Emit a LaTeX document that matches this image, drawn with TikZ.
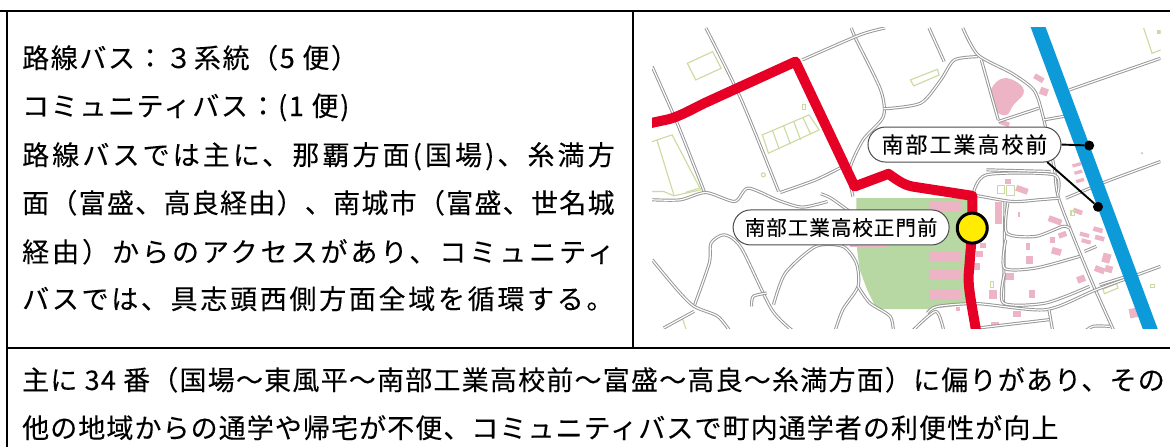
\documentclass[tikz,border=0pt]{standalone}
\usepackage{fontspec}
\usetikzlibrary{shapes.misc}
\setmainfont{Noto Sans CJK JP}
\newfontfamily\bodyfont[FakeBold=.12]{Noto Sans CJK JP}
\newfontfamily\labelfont[FakeBold=.12]{Noto Sans CJK JP}
\definecolor{rulecol}{HTML}{000000}
\definecolor{roadcol}{HTML}{969696}
\definecolor{routered}{HTML}{E60026}
\definecolor{routeblue}{HTML}{0C9BD8}
\definecolor{fieldgreen}{HTML}{B7D7A3}
\definecolor{housepink}{HTML}{EDB4C6}
\definecolor{outlinegreen}{HTML}{CBDA9E}
\definecolor{stopyellow}{HTML}{FFEC00}
\newcommand{\spaced}[1]{\addfontfeature{LetterSpace=#1}}
\tikzset{
  tablerule/.style={draw=rulecol,line width=2pt},
  bodytext/.style={anchor=base west,inner sep=0pt,font=\bodyfont\fontsize{27}{27}\selectfont},
  road/.style={draw=roadcol,line width=.95pt,double=white,double distance=1.2pt,line join=round},
  outl/.style={draw=outlinegreen,line width=1.1pt},
  house/.style={fill=housepink},
  routeline/.style={line width=10pt,line join=round},
  pill/.style={rounded rectangle,draw=black!70,line width=1pt,fill=white,inner sep=0pt},
  dotmark/.style={circle,fill=black,inner sep=0pt,minimum size=10pt},
  stopmark/.style={circle,fill=stopyellow,draw=black,line width=3pt,inner sep=0pt,minimum size=30pt},
  leader/.style={draw=black,line width=1.9pt}
}
\newcommand{\roadline}[1]{\draw[road] plot[smooth,tension=.45] coordinates {#1};}
\begin{document}
\begin{tikzpicture}[x=1pt,y=-1pt]
\useasboundingbox (0,0) rectangle (1170,447);
\fill[white] (0,0) rectangle (1170,447);
% map
\begin{scope}[shift={(640,10)},x=.338pt,y=-.333pt]
\clip (36,54) rectangle (1540,957);
\fill[fieldgreen] (640,565) -- (970,565) -- (970,885) -- (860,898) -- (700,898) -- (672,840) -- (650,780) -- (640,700) -- cycle;
\foreach \bx/\by/\bw/\bh in {855/575/950/605,620/695/730/712,855/725/950/755,855/780/950/812,855/838/950/870}
  \fill[house] (\bx,\by) rectangle (\bw,\bh);
\foreach \x/\y/\w/\h/\r in {1180/205/15/8/-30,1195/245/12/11/-20,1078/340/15/7/-20,1292/465/13/5/15,1297/487/12/5/15,1302/512/12/5/15,1090/515/9/8/0,1130/540/18/9/-20,1060/610/10/32/0,1228/632/20/9/-20,1295/605/14/7/-20,1122/615/3/8/0,1220/690/7/9/0,1250/675/12/8/20,1148/710/7/10/0,1152/750/10/12/0,1232/725/14/10/-15,1315/675/14/6/-15,1320/695/14/6/-15,1355/660/14/7/-15,1360/685/14/7/-15,1380/745/12/14/-15,1387/778/11/10/-15,1360/780/15/9/-20,1305/808/12/10/20,1093/800/14/10/0,1160/853/10/13/0,1045/855/12/14/0,1015/708/10/8/0,1005/733/10/9/0,995/770/10/10/0,1115/913/12/8/0,1050/945/12/8/0,940/897/6/6/0,1460/910/12/14/10}
  \fill[house,shift={(\x,\y)},rotate=\r] (-\w,-\h) rectangle (\w,\h);
\fill[house] plot[smooth cycle,tension=.7] coordinates {(1040,235) (1075,205) (1120,220) (1135,250) (1105,285) (1085,315) (1055,305) (1040,270)};
% outlines
\draw[outl] (140,160) -- (215,125) -- (240,175) -- (165,210) -- cycle;
\draw[outl] (800,210) -- (880,178) -- (885,195) -- (810,228) -- cycle;
\draw[outl] (362,375) -- (500,315) -- (530,360) -- (380,430) -- cycle;
\draw[outl] (392,362) -- (412,418);
\draw[outl] (425,348) -- (445,403);
\draw[outl] (455,335) -- (475,390);
\draw[outl] (482,323) -- (505,373);
\draw[outl] (36,395) -- (95,375) -- (180,540) -- (100,558);
\draw[outl] (50,390) -- (100,555);
\draw[outl] (36,545) -- (70,545) -- (100,558);
\draw[outl] (135,548) -- (175,535);
\draw[outl] (480,285) rectangle (490,298);
\draw[outl] (365,495) circle (6);
\draw[outl] (1058,528) rectangle (1078,550);
\draw[outl] (1085,528) rectangle (1108,556);
\draw[outl] (1036,815) rectangle (1045,832);
\draw[outl] (1275,602) rectangle (1285,618);
\draw[outl] (1370,838) -- (1410,822) -- (1414,835) -- (1374,852) -- cycle;
\draw[outl] (1490,54) -- (1515,130) -- (1540,120);
\fill[outlinegreen] (1530,60) rectangle (1540,72);
\fill[outlinegreen] (1485,430) circle (4);
\draw[outl] (1510,825) rectangle (1522,832);
\draw[outl] (70,955) -- (125,925) -- (140,970);
% roads
\roadline{(195,54) (300,270) (410,545)}
\roadline{(36,170) (110,340) (190,545)}
\roadline{(36,570) (120,570) (195,548) (280,575) (320,535) (410,572) (480,592) (555,575)}
\roadline{(415,548) (520,510) (600,470)}
\roadline{(535,552) (565,565) (620,605)}
\roadline{(630,560) (620,480) (660,390) (720,320) (712,240) (640,90) (625,54)}
\roadline{(480,150) (650,75) (725,54)}
\roadline{(720,297) (830,280) (890,210) (930,150) (1000,140)}
\roadline{(855,54) (900,155)}
\roadline{(955,54) (1000,135) (1100,190) (1165,240) (1190,310) (1225,470) (1240,570) (1330,800) (1405,970)}
\roadline{(1010,150) (1060,330)}
\roadline{(1060,335) (1180,295)}
\roadline{(1195,330) (1262,318)}
\roadline{(1270,240) (1540,145)}
\roadline{(1260,565) (1380,515) (1540,455)}
\roadline{(985,555) (1100,575) (1180,570) (1240,565)}
\roadline{(985,555) (1025,495) (1225,495) (1235,555)}
\roadline{(1025,480) (1215,485)}
\roadline{(1080,575) (1075,880)}
\roadline{(1088,580) (1085,670) (1170,680) (1250,650) (1270,655)}
\roadline{(1082,690) (1078,775) (1170,775) (1300,740)}
\roadline{(1078,792) (1075,880) (1200,880) (1330,830)}
\roadline{(850,910) (880,890) (1000,882) (1200,900) (1350,840) (1540,770)}
\roadline{(1210,900) (1222,970)}
\roadline{(1000,955) (1210,930)}
\roadline{(800,970) (875,905) (900,970)}
\roadline{(1350,710) (1315,725)}
\roadline{(1360,825) (1440,800)}
\roadline{(1310,970) (1340,950) (1390,950)}
\roadline{(160,890) (205,760) (210,700) (250,675) (300,715) (390,900) (460,970)}
\roadline{(36,750) (110,840) (160,890) (230,920) (270,970)}
\roadline{(70,955) (160,905)}
\roadline{(395,885) (430,790) (520,710) (600,710) (640,760) (645,830) (600,900) (575,970)}
\roadline{(645,830) (680,880) (740,920) (750,970)}
\roadline{(330,890) (335,860) (375,850)}
% routes
\draw[routeblue,line width=14pt] (1170,30) -- (1525,1000);
\draw[routered,routeline] (30,340) -- (85,328) .. controls (120,318) and (150,300) .. (190,280) -- (460,155) -- (635,530) -- (735,492) .. controls (760,510) and (780,525) .. (805,530) -- (983,558) -- (983,660) -- (972,800) .. controls (972,850) and (985,900) .. (1000,1000);
% labels and stops
\node[stopmark] (stopS) at (983,655) {};
\node[pill,minimum width=193pt,minimum height=35pt,font=\labelfont\fontsize{22}{22}\selectfont\spaced{9}] (lblA) at (960,404) {南部工業高校前};
\node[pill,minimum width=216pt,minimum height=35pt,font=\labelfont\fontsize{20.5}{20.5}\selectfont\spaced{5}] (lblB) at (595,653) {南部工業高校正門前};
\node[dotmark] (dotA) at (1329,407) {};
\node[dotmark] (dotB) at (1355,591) {};
\draw[leader] (lblA.east) -- (dotA);
\draw[leader] (lblA.-12) -- (dotB);
\end{scope}
% table
\draw[tablerule] (0,10.5) -- (1170,10.5);
\draw[tablerule] (6.5,10.5) -- (6.5,447);
\draw[tablerule] (632.5,10.5) -- (632.5,348);
\draw[tablerule] (6.5,348) -- (1170,348);
% text
\node[bodytext] (t1) at (22,68) {\spaced{6}路線バス：３系統（5 便）};
\node[bodytext] (t2) at (22,116) {\spaced{6}コミュニティバス：(1 便)};
\node[bodytext] (t3) at (22,165) {\spaced{11.5}路線バスでは主に、那覇方面(国場)、糸満方};
\node[bodytext] (t4) at (22,213) {\spaced{4.7}面（富盛、高良経由）、南城市（富盛、世名城};
\node[bodytext] (t5) at (22,262) {\spaced{11}経由）からのアクセスがあり、コミュニティ};
\node[bodytext] (t6) at (22,309) {\spaced{10}バスでは、具志頭西側方面全域を循環する。};
\node[bodytext] (t7) at (22,390) {\spaced{4.5}主に 34 番（国場～東風平～南部工業高校前～富盛～高良～糸満方面）に偏りがあり、その};
\node[bodytext] (t8) at (22,438) {\spaced{4}他の地域からの通学や帰宅が不便、コミュニティバスで町内通学者の利便性が向上};
\end{tikzpicture}
\end{document}
